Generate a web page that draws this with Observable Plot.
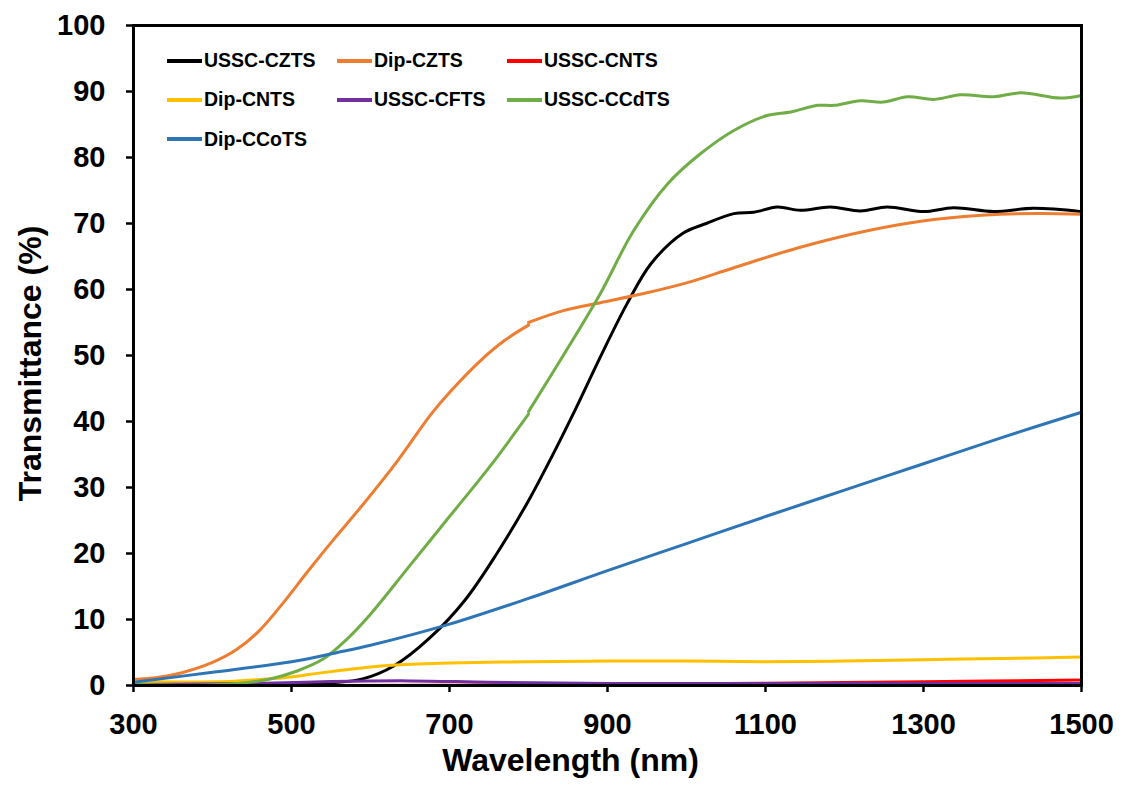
<!DOCTYPE html>
<html>
<head>
<meta charset="utf-8">
<script src="https://cdn.jsdelivr.net/npm/d3@7"></script>
<script src="https://cdn.jsdelivr.net/npm/@observablehq/plot@0.6"></script>
<style>
  html, body { margin: 0; padding: 0; background: #fff; }
  #wrap { position: relative; width: 1127px; height: 789px; font-family: "Liberation Sans", Arial, sans-serif; }
  #legend { position: absolute; left: 167px; top: 41px; display: grid; grid-template-columns: 170px 170px 170px; grid-auto-rows: 39.3px; font-weight: bold; font-size: 19.5px; color: #000; }
  .item { display: flex; align-items: center; white-space: nowrap; }
  .swatch { display: inline-block; width: 35px; height: 4px; margin-right: 2px; }
</style>
</head>
<body>
<div id="wrap"><div id="legend"></div></div>
<script>
const seriesNames = ["USSC-CZTS", "Dip-CZTS", "USSC-CNTS", "Dip-CNTS", "USSC-CFTS", "USSC-CCdTS", "Dip-CCoTS"];
const seriesColors = ["#000000", "#ED7D31", "#FF0000", "#FFC000", "#7030A0", "#70AD47", "#2E75B6"];

// a repeated wavelength marks the small detector-change jump near 800 nm
const wlUsscCZTS = [300, 400, 500, 550, 590, 630, 675, 720, 760, 800, 830, 860, 891, 925, 955, 995, 1025, 1060, 1085, 1115, 1144, 1182, 1220, 1254, 1300, 1338, 1389, 1439, 1500];
const tUsscCZTS  = [0.1, 0.1, 0.1, 0.4, 1.0, 3.0, 7.2, 13.0, 20.0, 28.0, 34.8, 42.0, 49.8, 57.9, 63.9, 68.5, 70.0, 71.5, 71.7, 72.5, 72.0, 72.5, 71.9, 72.5, 71.8, 72.4, 71.8, 72.3, 71.8];

const wlDipCZTS = [300, 330, 360, 400, 430, 460, 490, 520, 549, 591, 634, 676, 700, 739, 770, 800, 800, 844, 891, 950, 1000, 1060, 1144, 1229, 1313, 1397, 1450, 1500];
const tDipCZTS  = [0.9, 1.2, 1.9, 3.5, 5.4, 8.4, 12.6, 17.2, 21.5, 27.5, 34.0, 41.0, 44.4, 49.2, 52.3, 54.6, 55.0, 56.8, 58.0, 59.5, 61.0, 63.3, 66.4, 68.9, 70.6, 71.4, 71.5, 71.4];

const wlUsscCNTS = [300, 500, 700, 900, 1100, 1300, 1500];
const tUsscCNTS  = [0.0, 0.0, 0.05, 0.2, 0.35, 0.55, 0.85];

const wlDipCNTS = [300, 420, 470, 500, 530, 563, 600, 632, 700, 800, 900, 1000, 1100, 1200, 1300, 1400, 1500];
const tDipCNTS  = [0.6, 0.6, 1.0, 1.3, 1.8, 2.3, 2.8, 3.1, 3.4, 3.6, 3.7, 3.7, 3.6, 3.7, 3.9, 4.1, 4.3];

const wlUsscCFTS = [300, 450, 550, 650, 750, 900, 1100, 1300, 1500];
const tUsscCFTS  = [0.15, 0.3, 0.6, 0.7, 0.5, 0.3, 0.3, 0.3, 0.3];

const wlUsscCCdTS = [300, 400, 465, 507, 540, 570, 600, 650, 700, 750, 800, 800, 844, 891, 933, 976, 1018, 1060, 1103, 1132, 1166, 1187, 1220, 1249, 1280, 1313, 1347, 1389, 1423, 1473, 1500];
const tUsscCCdTS  = [0.2, 0.1, 0.8, 2.2, 4.0, 7.0, 10.8, 18.2, 25.6, 33.0, 41.1, 41.5, 50.0, 59.4, 68.9, 76.0, 80.6, 84.1, 86.4, 86.9, 87.9, 87.9, 88.6, 88.4, 89.2, 88.8, 89.5, 89.2, 89.8, 89.0, 89.4];

const wlDipCCoTS = [300, 400, 500, 558, 600, 700, 800, 900, 1000, 1100, 1200, 1300, 1400, 1500];
const tDipCCoTS  = [0.5, 2.0, 3.6, 5.0, 6.1, 9.3, 13.2, 17.4, 21.5, 25.6, 29.6, 33.6, 37.6, 41.4];

const xTicks = [300, 500, 700, 900, 1100, 1300, 1500];
const yTicks = [0, 10, 20, 30, 40, 50, 60, 70, 80, 90, 100];
const xTitle = "Wavelength (nm)";
const yTitle = "Transmittance (%)";

const seriesData = [
  [wlUsscCZTS, tUsscCZTS], [wlDipCZTS, tDipCZTS], [wlUsscCNTS, tUsscCNTS], [wlDipCNTS, tDipCNTS],
  [wlUsscCFTS, tUsscCFTS], [wlUsscCCdTS, tUsscCCdTS], [wlDipCCoTS, tDipCCoTS]
];
const rows = seriesData.flatMap(([wl, t], i) => {
  let seg = 0;
  return wl.map((w, j) => {
    if (j > 0 && w === wl[j - 1]) seg++;
    return {s: seriesNames[i], k: seriesNames[i] + "#" + seg, wl: w, t: t[j]};
  });
});

const font = "'Liberation Sans', Arial, sans-serif";
const chart = Plot.plot({
  width: 1127, height: 789,
  marginLeft: 133, marginRight: 46, marginTop: 25, marginBottom: 104,
  x: {domain: [300, 1500]},
  y: {domain: [0, 100]},
  color: {domain: seriesNames, range: seriesColors},
  style: {fontFamily: font, fontWeight: "bold", fontSize: "29px", color: "#000", background: "#fff", overflow: "visible"},
  marks: [
    Plot.line(rows, {x: "wl", y: "t", z: "k", stroke: "s", strokeWidth: 3, strokeLinecap: "round", curve: "catmull-rom"}),
    Plot.frame({stroke: "#000", strokeWidth: 3}),
    Plot.axisX({ticks: xTicks, tickFormat: d => String(d), tickSize: 7, tickPadding: 21, strokeWidth: 2.5, label: null, fontSize: 29, fontWeight: "bold"}),
    Plot.axisY({ticks: yTicks, tickFormat: d => String(d), tickSize: 7, tickPadding: 21, strokeWidth: 2.5, label: null, fontSize: 29, fontWeight: "bold"}),
    Plot.text([xTitle], {frameAnchor: "bottom", text: d => d, textAnchor: "middle", lineAnchor: "middle", dx: -37, dy: 75, fontSize: 32, fontWeight: "bold"}),
    Plot.text([yTitle], {frameAnchor: "left", text: d => d, textAnchor: "middle", lineAnchor: "middle", rotate: -90, dx: -103, dy: 8, fontSize: 32, fontWeight: "bold"})
  ]
});
document.getElementById("wrap").prepend(chart);

const legend = document.getElementById("legend");
seriesNames.forEach((name, i) => {
  const item = document.createElement("div");
  item.className = "item";
  const sw = document.createElement("span");
  sw.className = "swatch";
  sw.style.background = seriesColors[i];
  const tx = document.createElement("span");
  tx.textContent = name;
  item.append(sw, tx);
  legend.append(item);
});
</script>
</body>
</html>
